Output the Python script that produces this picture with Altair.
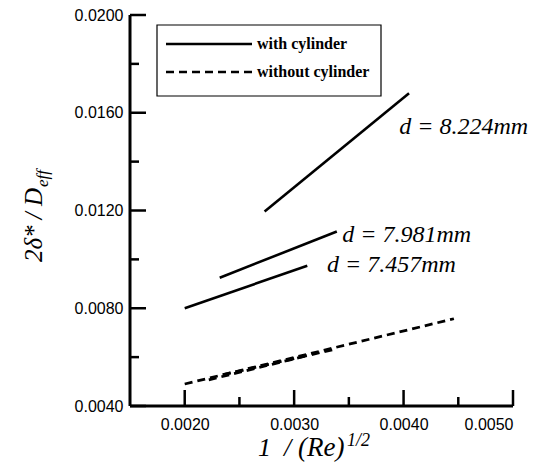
import altair as alt
import pandas as pd

# ---------------- data ----------------
x_domain = [0.0015, 0.0050]
y_domain = [0.0040, 0.0200]

x_major = [0.0020, 0.0030, 0.0040, 0.0050]
x_minor = [0.0025, 0.0035, 0.0045]
y_major = [0.0040, 0.0080, 0.0120, 0.0160, 0.0200]
y_minor = [0.0060, 0.0100, 0.0140, 0.0180]

# with cylinder (solid lines)
with_names = ["d = 8.224mm", "d = 7.981mm", "d = 7.457mm"]
with_x1 = [0.00273, 0.00232, 0.00200]
with_x2 = [0.00405, 0.00339, 0.00312]
with_y1 = [0.01196, 0.00925, 0.00800]
with_y2 = [0.01680, 0.01114, 0.00974]

# without cylinder (dashed lines)
without_names = ["d = 8.224mm", "d = 7.981mm", "d = 7.457mm"]
without_x1 = [0.00200, 0.00235, 0.00222]
without_x2 = [0.00446, 0.00339, 0.00310]
without_y1 = [0.00490, 0.00528, 0.00507]
without_y2 = [0.00757, 0.00634, 0.00604]

# annotations
annot_labels = ["d = 8.224mm", "d = 7.981mm", "d = 7.457mm"]
annot_x = [0.00396, 0.00344, 0.00330]
annot_y = [0.01540, 0.01100, 0.00979]

legend_labels = ["with cylinder", "without cylinder"]

# ---------------- chart ----------------
W, H = 383, 391
xs = alt.Scale(domain=x_domain, nice=False, zero=False)
ys = alt.Scale(domain=y_domain, nice=False, zero=False)
x_span = x_domain[1] - x_domain[0]
y_span = y_domain[1] - y_domain[0]

solid_df = pd.DataFrame({"name": with_names, "x1": with_x1, "x2": with_x2,
                         "y1": with_y1, "y2": with_y2})
dash_df = pd.DataFrame({"name": without_names, "x1": without_x1, "x2": without_x2,
                        "y1": without_y1, "y2": without_y2})
annot_df = pd.DataFrame({"label": annot_labels, "x": annot_x, "y": annot_y})
one = pd.DataFrame({"a": [0]})

# axis frame (left & bottom lines) and inward ticks, in data units
frame_df = pd.DataFrame({
    "x1": [x_domain[0], x_domain[0]], "x2": [x_domain[1], x_domain[0]],
    "y1": [y_domain[0], y_domain[0]], "y2": [y_domain[0], y_domain[1]],
})
tick_rows = []
for v in x_major:
    tick_rows.append((v, v, y_domain[0], y_domain[0] + 16 / H * y_span))
for v in x_minor:
    tick_rows.append((v, v, y_domain[0], y_domain[0] + 9 / H * y_span))
for v in y_major:
    tick_rows.append((x_domain[0], x_domain[0] + 16 / W * x_span, v, v))
for v in y_minor:
    tick_rows.append((x_domain[0], x_domain[0] + 9 / W * x_span, v, v))
ticks_df = pd.DataFrame(tick_rows, columns=["x1", "x2", "y1", "y2"])

axis_kw = dict(format=".4f", title=None, domain=False, ticks=False, grid=False,
               labelFontSize=16, labelColor="black", labelFont="Liberation Sans")
base_axes = alt.Chart(one).mark_point(opacity=0).encode(
    x=alt.X("a:Q", scale=xs, axis=alt.Axis(values=x_major, labelPadding=10, **axis_kw)),
    y=alt.Y("a:Q", scale=ys, axis=alt.Axis(values=y_major, labelPadding=7, **axis_kw)),
)

def seg_layer(df, width, dash=None):
    kw = dict(color="black", strokeWidth=width)
    if dash:
        kw["strokeDash"] = dash
    return alt.Chart(df).mark_rule(**kw).encode(
        x=alt.X("x1:Q", scale=xs), x2="x2:Q",
        y=alt.Y("y1:Q", scale=ys), y2="y2:Q",
    )

frame = seg_layer(frame_df, 3)
ticks = seg_layer(ticks_df, 2.5)
solid = seg_layer(solid_df, 2.6)
dashed = seg_layer(dash_df, 2.8, [8, 5])

annots = alt.Chart(annot_df).mark_text(
    align="left", baseline="middle", font="Liberation Serif", fontStyle="italic",
    fontSize=24, color="black").encode(
    x=alt.X("x:Q", scale=xs), y=alt.Y("y:Q", scale=ys), text="label:N")

# legend
leg_box = alt.Chart(one).mark_rect(fill="white", stroke="black", strokeWidth=1.2).encode(
    x=alt.value(27), x2=alt.value(251), y=alt.value(10), y2=alt.value(81))
leg_solid = alt.Chart(one).mark_rule(color="black", strokeWidth=2.4).encode(
    x=alt.value(36), x2=alt.value(122), y=alt.value(29))
leg_dash = alt.Chart(one).mark_rule(color="black", strokeWidth=2.6, strokeDash=[8, 5]).encode(
    x=alt.value(36), x2=alt.value(122), y=alt.value(57))
leg_t1 = alt.Chart(one).mark_text(
    align="left", baseline="middle", font="Liberation Serif", fontWeight="bold",
    fontSize=16, color="black").encode(
    x=alt.value(127), y=alt.value(29), text=alt.value(legend_labels[0]))
leg_t2 = alt.Chart(one).mark_text(
    align="left", baseline="middle", font="Liberation Serif", fontWeight="bold",
    fontSize=16, color="black").encode(
    x=alt.value(127), y=alt.value(57), text=alt.value(legend_labels[1]))

# axis titles (with sub/superscripts)
def title_piece(txt, x, y, size, angle=0):
    return alt.Chart(one).mark_text(
        align="left", baseline="alphabetic", font="Liberation Serif",
        fontStyle="italic", fontSize=size, angle=angle, color="black").encode(
        x=alt.value(x), y=alt.value(y), text=alt.value(txt))

xt1 = title_piece("1", 128, 441, 26)
xt2 = title_piece("/", 154, 441, 26)
xt3 = title_piece("(Re)", 168, 441, 27)
xt4 = title_piece("1/2", 217, 431, 18)
yt_main = title_piece("2δ* / D", -88, 247, 25, 270)
yt_sub = title_piece("eff", -82, 172, 17, 270)

chart = alt.layer(
    base_axes, leg_box, leg_solid, leg_dash, leg_t1, leg_t2,
    solid, dashed, frame, ticks, annots,
    xt1, xt2, xt3, xt4, yt_main, yt_sub,
).properties(
    width=W, height=H,
    autosize=alt.AutoSizeParams(type="none"),
    padding={"left": 122, "top": 7, "right": 29, "bottom": 56},
).configure_view(stroke=None)

chart.save("out.html", embed_options={"renderer": "svg", "actions": False})
